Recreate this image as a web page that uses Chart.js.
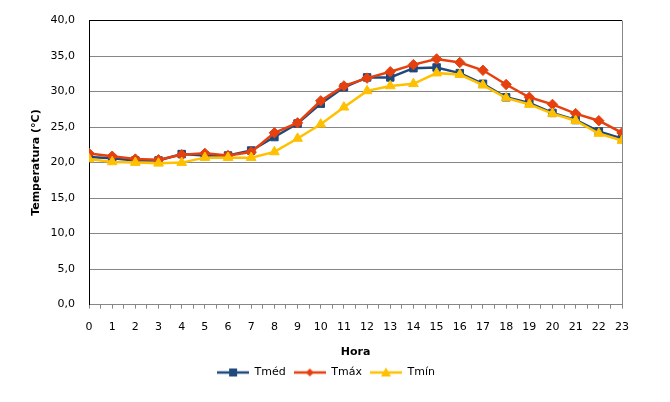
<!DOCTYPE html>
<html>
<head>
<meta charset="utf-8">
<script src="https://cdn.jsdelivr.net/npm/chart.js@4"></script>
<style>
	html, body { margin: 0; padding: 0; background: #fff; }
	#wrap { width: 670px; height: 402px; }
</style>
</head>
<body>
<div id="wrap"><canvas id="chart-temp" width="670" height="402"></canvas></div>
<script>
"use strict";


const hours = [0, 1, 2, 3, 4, 5, 6, 7, 8, 9, 10, 11, 12, 13, 14, 15, 16, 17, 18, 19, 20, 21, 22, 23];

const tMed = [20.8, 20.6, 20.3, 20.3, 21.2, 21.0, 21.0, 21.7, 23.6, 25.5, 28.3, 30.6,
	32.0, 32.0, 33.3, 33.4, 32.6, 31.1, 29.2, 28.4, 27.0, 26.0, 24.4, 23.4];
const tMax = [21.3, 20.9, 20.5, 20.4, 21.1, 21.3, 21.0, 21.5, 24.2, 25.6, 28.7, 30.8,
	31.9, 32.8, 33.8, 34.6, 34.1, 33.0, 31.0, 29.2, 28.2, 26.9, 25.9, 24.2];
const tMin = [20.5, 20.1, 20.0, 19.9, 20.0, 20.7, 20.7, 20.7, 21.5, 23.4, 25.4, 27.8,
	30.1, 30.8, 31.1, 32.6, 32.4, 30.9, 29.1, 28.2, 26.9, 25.9, 24.1, 23.1];

const seriesLabels = ["Tméd", "Tmáx", "Tmín"];
const yTicks = [0, 5, 10, 15, 20, 25, 30, 35, 40];


const textColor = "#000";
const gridColor = "#868686";
const fontFamily = "'DejaVu Sans', Verdana, sans-serif";

const colors = ["#1f497d", "#e6400e", "#ffc000"];
const markers = ["rect", "rectRot", "triangle"];
const markerRadius = [5.3, 5.2, 5.6];


// small line + marker picture for the legend
function legendIcon(color, marker) {
	const c = document.createElement("canvas");
	c.width = 32;
	c.height = 12;
	const g = c.getContext("2d");
	g.strokeStyle = color;
	g.fillStyle = color;
	g.lineWidth = 2.5;
	g.beginPath();
	g.moveTo(0, 6);
	g.lineTo(32, 6);
	g.stroke();
	g.beginPath();
	if (marker === "rect") {
		g.rect(12, 2, 8, 8);
	} else if (marker === "rectRot") {
		g.moveTo(16, 2); g.lineTo(20, 6); g.lineTo(16, 10); g.lineTo(12, 6);
		g.closePath();
	} else {
		g.moveTo(16, 1); g.lineTo(21, 10); g.lineTo(11, 10);
		g.closePath();
	}
	g.fill();
	return c;
}


function getData(list) {
	return list.map((value, i) => ({ x: hours[i], y: value }));
}


const series = [tMed, tMax, tMin];

const datasets = series.map((list, i) => ({
	label: seriesLabels[i],
	data: getData(list),
	borderColor: colors[i],
	backgroundColor: colors[i],
	borderWidth: 2.5,
	pointStyle: markers[i],
	pointRadius: markerRadius[i],
	pointHoverRadius: markerRadius[i],
	pointBorderWidth: 1,
	pointBackgroundColor: colors[i],
	pointBorderColor: colors[i],
	tension: 0,
	order: series.length - i,
}));


const ctx = document.getElementById("chart-temp").getContext("2d");

new Chart(ctx, {
	type: "line",
	data: { datasets: datasets },
	options: {
		responsive: false,
		animation: false,
		layout: {
			padding: { left: 30, right: 48, top: 19, bottom: 14 },
		},
		plugins: {
			tooltip: { enabled: false },
			legend: {
				position: "bottom",
				labels: {
					color: textColor,
					font: { family: fontFamily, size: 11 },
					usePointStyle: true,
					pointStyleWidth: 32,
					boxHeight: 12,
					padding: 8,
					generateLabels: chart => chart.data.datasets.map((ds, i) => ({
						text: ds.label,
						pointStyle: legendIcon(colors[i], markers[i]),
						fillStyle: colors[i],
						strokeStyle: colors[i],
						lineWidth: 0,
						fontColor: textColor,
						hidden: false,
						datasetIndex: i,
					})),
				},
			},
		},
		scales: {
			x: {
				type: "linear",
				min: 0,
				max: 23,
				ticks: {
					stepSize: 0.5,
					autoSkip: false,
					maxRotation: 0,
					color: textColor,
					padding: 12,
					font: { family: fontFamily, size: 11 },
					callback: v => Number.isInteger(v) ? String(v) : "",
				},
				grid: {
					color: c => c.tick && c.tick.value === 23 ? gridColor : "rgba(0,0,0,0)",
					tickColor: gridColor,
					tickLength: 4,
				},
				border: { color: gridColor, width: 1 },
				title: {
					display: true,
					text: "Hora",
					color: textColor,
					font: { family: fontFamily, size: 11, weight: "bold" },
					padding: { top: 0, bottom: 0 },
				},
			},
			y: {
				min: 0,
				max: 40,
				afterBuildTicks: scale => {
					scale.ticks = yTicks.map(v => ({ value: v }));
				},
				afterFit: scale => {
					scale.width = 59;
				},
				ticks: {
					color: textColor,
					padding: 14,
					font: { family: fontFamily, size: 11 },
					callback: v => v.toFixed(1).replace(".", ","),
				},
				grid: {
					color: c => c.tick && c.tick.value === 40 ? "#000" : gridColor,
					drawTicks: false,
				},
				border: { color: "#000", width: 1 },
				title: {
					display: true,
					text: "Temperatura (°C)",
					color: textColor,
					font: { family: fontFamily, size: 11, weight: "bold" },
					padding: 0,
				},
			},
		},
	},
});
</script>
</body>
</html>
